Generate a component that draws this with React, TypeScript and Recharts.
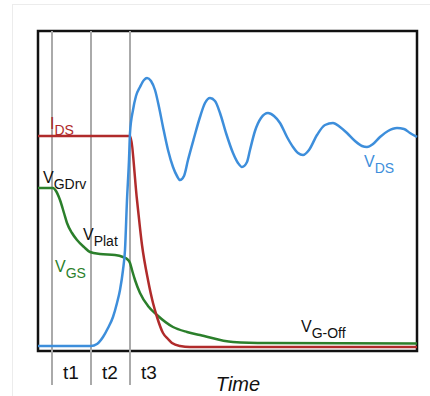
import React from "react";
import {
  LineChart,
  Line,
  XAxis,
  YAxis,
  ReferenceLine,
  ReferenceArea,
  ReferenceDot,
} from "recharts";

// time / level pairs
const vdsPoints: [number, number][] = [
  [0, 5], [53, 5], [59, 7], [65, 14], [70, 23], [75, 34], [79, 48], [82, 61],
  [85, 81], [87, 101], [89, 151], [91, 191], [92, 218], [95, 241], [98, 255],
  [102, 264], [106, 271], [109, 273], [113, 270], [117, 261], [121, 244],
  [125, 224], [130, 201], [135, 184], [139, 175], [142, 171], [146, 175],
  [150, 191], [156, 213], [162, 234], [167, 248], [172, 253], [177, 250],
  [182, 238], [188, 218], [195, 198], [200, 188], [204, 184], [209, 189],
  [212, 201], [217, 220], [223, 233], [230, 238], [236, 235], [242, 228],
  [249, 214], [255, 204], [260, 198], [265, 196], [271, 201], [279, 216],
  [287, 226], [295, 228], [302, 224], [309, 218], [317, 210], [324, 205],
  [329, 204], [335, 207], [342, 214], [350, 220], [359, 223], [366, 222],
  [372, 218], [379, 214],
];

const idsPoints: [number, number][] = [
  [0, 215], [92, 215], [99, 151], [104, 106], [110, 71], [115, 48], [119, 34],
  [125, 18], [130, 12], [134, 8], [142, 5], [152, 4], [379, 4],
];

const vgsPoints: [number, number][] = [
  [0, 163], [15, 163], [18, 160], [22, 151], [26, 138], [29, 128], [34, 118],
  [39, 111], [46, 104], [52, 99], [62, 97], [77, 96], [85, 94], [89, 92],
  [92, 88], [94, 81], [97, 71], [102, 58], [110, 45], [119, 36], [135, 24],
  [149, 19], [162, 16], [195, 9], [229, 8], [379, 7.5],
];

const phaseMarks = [14, 53, 92];
const phaseLabels = ["t1", "t2", "t3"];

const toRows = (pts: [number, number][]) => pts.map(([t, v]) => ({ t, v }));

const FONT = "'Liberation Sans', Arial, Helvetica, sans-serif";
const BLUE = "#3d8edb";
const RED = "#b02b2b";
const GREEN = "#2b7f2b";

const SubText = (props: any) => {
  const { cx, cy, main, sub, color } = props;
  return (
    <text x={cx} y={cy} fill={color} fontFamily={FONT} fontSize={16}>
      {main}
      <tspan fontSize={14} dy={6}>
        {sub}
      </tspan>
    </text>
  );
};

const PlainText = (props: any) => {
  const { cx, cy, value, size, italic } = props;
  return (
    <text
      x={cx}
      y={cy}
      fill="#111"
      fontFamily={FONT}
      fontSize={size}
      fontStyle={italic ? "italic" : "normal"}
      textAnchor="middle"
    >
      {value}
    </text>
  );
};

export default function App() {
  return (
    <div style={{ position: "absolute", left: 0, top: 0, width: 430, height: 396, background: "#fff" }}>
      <div
        style={{
          position: "absolute",
          left: 12,
          top: 4,
          width: 430,
          height: 400,
          borderLeft: "1px solid #ececec",
          borderTop: "1px solid #ececec",
        }}
      />
      <LineChart
        width={430}
        height={396}
        margin={{ top: 31, right: 13, bottom: 45, left: 38 }}
        style={{ position: "absolute", left: 0, top: 0 }}
      >
        <XAxis type="number" dataKey="t" domain={[0, 379]} hide />
        <YAxis type="number" domain={[0, 320]} hide />

        {phaseMarks.map((x, i) => (
          <ReferenceLine
            key={`mark-${i}`}
            segment={[
              { x, y: -34 },
              { x, y: 320 },
            ]}
            stroke="#aaaaaa"
            strokeWidth={2}
            ifOverflow="visible"
          />
        ))}

        <Line data={toRows(vgsPoints)} dataKey="v" type="monotone" stroke={GREEN} strokeWidth={2.5} dot={false} isAnimationActive={false} />
        <Line data={toRows(idsPoints)} dataKey="v" type="monotone" stroke={RED} strokeWidth={2.5} dot={false} isAnimationActive={false} />
        <Line data={toRows(vdsPoints)} dataKey="v" type="monotone" stroke={BLUE} strokeWidth={2.5} dot={false} isAnimationActive={false} />

        <ReferenceArea
          x1={0}
          x2={379}
          y1={0}
          y2={320}
          fill="none"
          stroke="#111"
          strokeWidth={2.5}
          fillOpacity={0}
          ifOverflow="visible"
        />

        <ReferenceDot x={12} y={222} r={0} ifOverflow="visible"
          shape={(p: any) => <SubText cx={p.cx} cy={p.cy} main="I" sub="DS" color={RED} />} />
        <ReferenceDot x={5} y={168} r={0} ifOverflow="visible"
          shape={(p: any) => <SubText cx={p.cx} cy={p.cy} main="V" sub="GDrv" color="#111" />} />
        <ReferenceDot x={45} y={111} r={0} ifOverflow="visible"
          shape={(p: any) => <SubText cx={p.cx} cy={p.cy} main="V" sub="Plat" color="#111" />} />
        <ReferenceDot x={17} y={79} r={0} ifOverflow="visible"
          shape={(p: any) => <SubText cx={p.cx} cy={p.cy} main="V" sub="GS" color={GREEN} />} />
        <ReferenceDot x={326} y={184} r={0} ifOverflow="visible"
          shape={(p: any) => <SubText cx={p.cx} cy={p.cy} main="V" sub="DS" color={BLUE} />} />
        <ReferenceDot x={263} y={19} r={0} ifOverflow="visible"
          shape={(p: any) => <SubText cx={p.cx} cy={p.cy} main="V" sub="G-Off" color="#111" />} />

        {phaseLabels.map((label, i) => (
          <ReferenceDot key={label} x={phaseMarks[i] + 19} y={-28} r={0} ifOverflow="visible"
            shape={(p: any) => <PlainText cx={p.cx} cy={p.cy} value={label} size={19} />} />
        ))}
        <ReferenceDot x={200} y={-40} r={0} ifOverflow="visible"
          shape={(p: any) => <PlainText cx={p.cx} cy={p.cy} value="Time" size={20} italic />} />
      </LineChart>
    </div>
  );
}
